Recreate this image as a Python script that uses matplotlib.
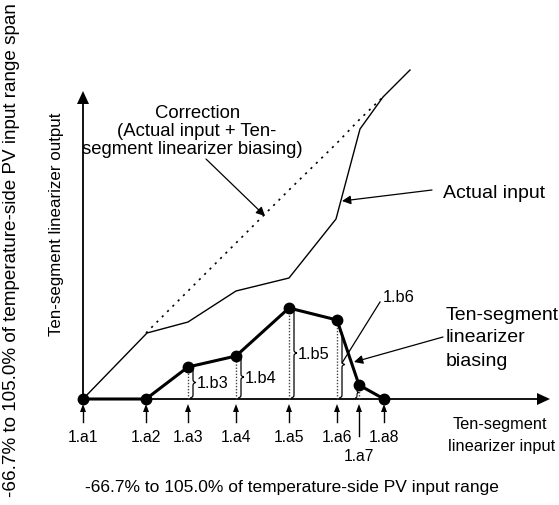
import matplotlib
matplotlib.use("Agg")
import matplotlib.pyplot as plt
from matplotlib.path import Path
from matplotlib.patches import PathPatch, FancyArrow

# ---- data (units: one unit = one pixel of the reference, origin at chart origin)
segment_labels = ['1.a1', '1.a2', '1.a3', '1.a4', '1.a5', '1.a6', '1.a7', '1.a8']
breakpoint_x = [0, 63, 105, 153, 206, 254, 276, 301]
biasing_y = [0, 0, 32, 43, 91, 79, 14, 0]
actual_x = [0, 64, 105, 153, 206, 253, 277, 300, 327]
actual_y = [0, 66, 77, 108, 121, 180, 270, 302, 329]
correction_x = [63, 105, 153, 206, 254, 276, 300]
correction_y = [66, 108, 156, 209, 256, 279, 302]
bias_labels = ['1.b3', '1.b4', '1.b5', '1.b6']

FONT = 'Liberation Sans'
plt.rcParams['font.family'] = [FONT, 'DejaVu Sans']

fig = plt.figure(figsize=(5.59, 5.06), dpi=100)
ax = fig.add_axes([0, 0, 1, 1])
ax.set_xlim(-83, 476)
ax.set_ylim(-106, 400)
ax.axis('off')

# axes with arrows
ax.plot([0, 456], [0, 0], color='black', lw=1.3, solid_capstyle='butt')
ax.add_patch(FancyArrow(452, 0, 15, 0, width=0.01, head_width=12, head_length=13,
                        length_includes_head=True, color='black', lw=0))
ax.plot([0, 0], [0, 297], color='black', lw=1.3, solid_capstyle='butt')
ax.add_patch(FancyArrow(0, 293, 0, 15, width=0.01, head_width=12, head_length=13,
                        length_includes_head=True, color='black', lw=0))

# dotted verticals for biasing
for i in range(2, 7):
    ax.plot([breakpoint_x[i], breakpoint_x[i]], [0, biasing_y[i]],
            color='#444444', lw=1.0, ls=(0, (1, 1.2)))


def brace(x, y0, y1, w, lw=0.9):
    ym = (y0 + y1) / 2.0
    r = min(w / 2.0, (y1 - y0) / 4.0)
    verts = [(x, y0), (x + w / 2, y0), (x + w / 2, y0 + r),
             (x + w / 2, ym - r), (x + w / 2, ym), (x + w, ym),
             (x + w / 2, ym), (x + w / 2, ym + r),
             (x + w / 2, y1 - r), (x + w / 2, y1), (x, y1)]
    codes = [Path.MOVETO, Path.CURVE3, Path.CURVE3,
             Path.LINETO, Path.CURVE3, Path.CURVE3,
             Path.CURVE3, Path.CURVE3,
             Path.LINETO, Path.CURVE3, Path.CURVE3]
    ax.add_patch(PathPatch(Path(verts, codes), fill=False, lw=lw, color='black'))


# braces and labels 1.b3 .. 1.b6
for i, lab in zip(range(2, 6), bias_labels):
    bx = breakpoint_x[i] + 2
    top = biasing_y[i] if i != 5 else biasing_y[i] - 11
    brace(bx, 1, top, 6)
    if i < 5:
        ax.text(bx + 7, top / 2.0, lab, fontsize=11.8, ha='left', va='center')
brace(breakpoint_x[6] - 4, 1, biasing_y[6] - 2, 4, lw=0.8)
# 1.b6 leader
ax.plot([259, 297], [36, 97], color='black', lw=0.9)
ax.text(300, 102, bias_labels[3], fontsize=11.8, ha='left', va='center')

# actual input
ax.plot(actual_x, actual_y, color='black', lw=1.0)
# correction
ax.plot(correction_x, correction_y, color='black', lw=1.2, ls=(0, (1.3, 3.2)))
# biasing
ax.plot(breakpoint_x, biasing_y, color='black', lw=2.2, marker='o',
        markersize=7.5, zorder=5)

# tick arrows and labels
for i, (bx, lab) in enumerate(zip(breakpoint_x, segment_labels)):
    start = -37 if i == 6 else -23
    ax.plot([bx, bx], [start, -9], color='black', lw=1.0)
    ax.add_patch(FancyArrow(bx, -13, 0, 8, width=0.01, head_width=6, head_length=8,
                            length_includes_head=True, color='black', lw=0))
    ty = -57 if i == 6 else -38
    ax.text(bx, ty, lab, fontsize=11.3, ha='center', va='center')

# annotation arrows
arrow_kw = dict(arrowstyle='-|>', mutation_scale=13, lw=0.9, color='black',
                shrinkA=0, shrinkB=0)
ax.annotate('', xy=(182, 183), xytext=(123, 240), arrowprops=arrow_kw)
ax.annotate('', xy=(259, 198), xytext=(349, 209), arrowprops=arrow_kw)
ax.annotate('', xy=(271, 37), xytext=(360, 62), arrowprops=arrow_kw)

# texts
ax.text(115, 287, 'Correction', fontsize=13.3, ha='center', va='center')
ax.text(114, 268, '(Actual input + Ten-', fontsize=13.3, ha='center', va='center')
ax.text(109, 250, 'segment linearizer biasing)', fontsize=13.3, ha='center', va='center')
ax.text(360, 207, 'Actual input', fontsize=14, ha='left', va='center')
ax.text(363, 85, 'Ten-segment', fontsize=14, ha='left', va='center')
ax.text(363, 62, 'linearizer', fontsize=14, ha='left', va='center')
ax.text(363, 38, 'biasing', fontsize=14, ha='left', va='center')
ax.text(417, -25, 'Ten-segment', fontsize=11.8, ha='center', va='center')
ax.text(419, -47, 'linearizer input', fontsize=11.8, ha='center', va='center')
ax.text(209, -88, '-66.7% to 105.0% of temperature-side PV input range',
        fontsize=12.5, ha='center', va='center')
ax.text(-71, 150, '-66.7% to 105.0% of temperature-side PV input range span',
        fontsize=13.6, ha='center', va='center', rotation=90)
ax.text(-26, 176, 'Ten-segment linearizer output', fontsize=12.2,
        ha='center', va='center', rotation=90)

fig.savefig('out.png', dpi=100)
